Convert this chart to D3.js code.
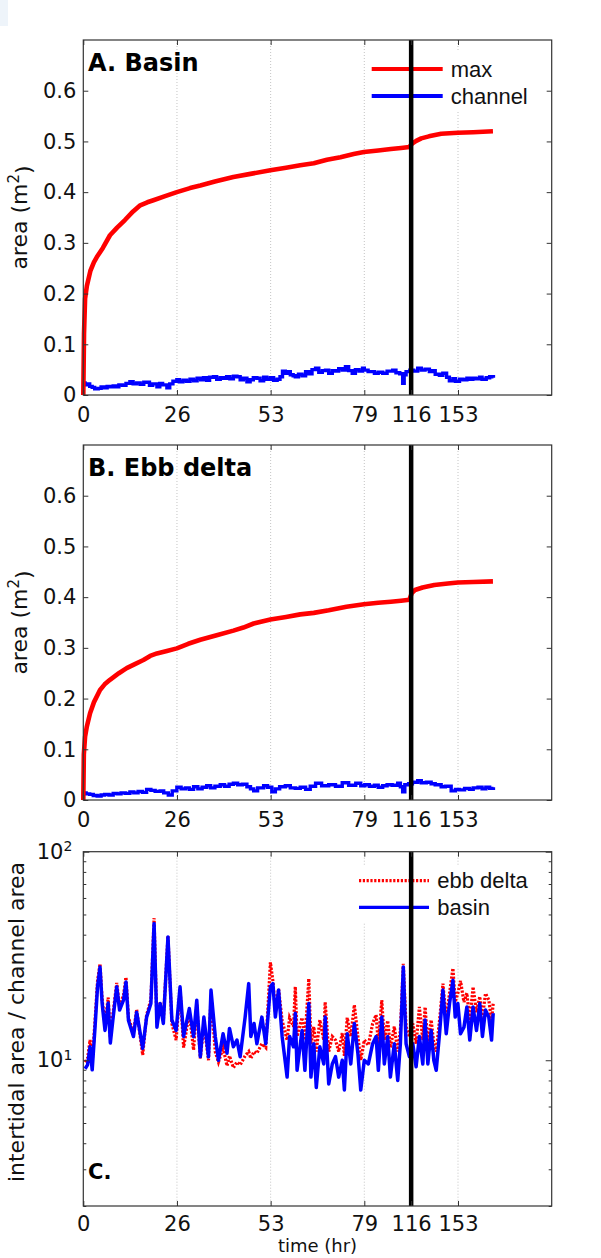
<!DOCTYPE html>
<html>
<head>
<meta charset="utf-8">
<script src="https://cdn.jsdelivr.net/npm/d3@7"></script>
<style>
  body { margin: 0; background: #fff; }
  svg { display: block; }
</style>
</head>
<body>
<div id="chart"></div>
<script>
// ---- data (hours, areas in m^2, ratios) ----
var xTicks = [0, 26.33, 52.67, 79, 116, 153];
var xTickLabels = ["0", "26", "53", "79", "116", "153"];
var yTicks = [0, 0.1, 0.2, 0.3, 0.4, 0.5, 0.6];
var yTickLabels = ["0", "0.1", "0.2", "0.3", "0.4", "0.5", "0.6"];
var logMajor = [10, 100];
var logExponents = ["1", "2"];
var logMinor = [2, 3, 4, 5, 6, 7, 8, 9, 20, 30, 40, 50, 60, 70, 80, 90];
var breakTime = 116;

var basinMaxT = [0, 0.2, 0.5, 1, 2, 3, 3.8, 5.5, 7.5, 9.5, 11.7, 14, 16, 18, 19.7, 23, 26.3, 30, 32.9, 37, 42.2, 47, 52.6, 57, 61, 64.8, 68.5, 72.3, 76, 78.9, 90, 100, 108, 114.6, 116.5, 120, 124, 130, 139.7, 152.9, 165, 180.6];
var basinMax = [0, 0.12, 0.19, 0.215, 0.245, 0.262, 0.272, 0.29, 0.315, 0.33, 0.345, 0.362, 0.374, 0.38, 0.384, 0.392, 0.4, 0.408, 0.413, 0.421, 0.43, 0.436, 0.443, 0.448, 0.453, 0.457, 0.464, 0.469, 0.475, 0.479, 0.482, 0.485, 0.487, 0.489, 0.495, 0.501, 0.506, 0.51, 0.515, 0.517, 0.518, 0.52];

var basinChT = [0, 0.5, 1, 1.8, 2.5, 3.2, 4.2, 5, 5.8, 6.7, 7.5, 8.4, 9.2, 10, 11, 12, 13.1, 14, 15, 16, 17, 17.8, 18.6, 19.5, 20.7, 21.5, 22.3, 23.5, 24.3, 25.2, 26.3, 27, 28, 29, 30, 31, 32, 33, 33.8, 34.7, 35.5, 36.6, 37.5, 38.5, 39.4, 40.3, 41.2, 42.2, 43.2, 44.1, 45, 46, 46.9, 47.8, 48.8, 49.7, 50.7, 51.6, 52.6, 53.5, 54.5, 55.3, 56, 56.8, 57.5, 58.2, 59, 59.6, 60.5, 61.5, 62.5, 63.4, 64.3, 65.3, 66.2, 67.2, 68.1, 69, 70, 70.9, 71.8, 72.8, 73.7, 74.6, 75.6, 76.5, 77.5, 78.5, 79, 82, 84.3, 87, 90, 93.5, 97, 101.4, 104, 107, 109.3, 110.5, 112, 115, 118, 121.2, 124, 127, 130.4, 133, 135, 138.3, 141, 144, 146.2, 149, 151, 154.2, 157, 160, 162, 164.7, 167, 170, 172, 175.3, 178, 181];
var basinCh = [0.024, 0.02, 0.022, 0.017, 0.015, 0.012, 0.013, 0.016, 0.014, 0.017, 0.016, 0.018, 0.016, 0.02, 0.019, 0.023, 0.026, 0.022, 0.024, 0.021, 0.025, 0.025, 0.019, 0.022, 0.016, 0.023, 0.02, 0.014, 0.022, 0.027, 0.03, 0.026, 0.029, 0.027, 0.031, 0.028, 0.033, 0.03, 0.034, 0.029, 0.035, 0.036, 0.031, 0.034, 0.033, 0.036, 0.032, 0.037, 0.036, 0.03, 0.033, 0.026, 0.03, 0.034, 0.033, 0.028, 0.035, 0.031, 0.034, 0.029, 0.031, 0.036, 0.047, 0.043, 0.046, 0.04, 0.038, 0.036, 0.041, 0.038, 0.046, 0.042, 0.05, 0.053, 0.045, 0.048, 0.049, 0.043, 0.048, 0.047, 0.052, 0.049, 0.056, 0.048, 0.043, 0.05, 0.047, 0.053, 0.049, 0.046, 0.046, 0.043, 0.045, 0.043, 0.047, 0.049, 0.044, 0.042, 0.023, 0.04, 0.046, 0.049, 0.047, 0.053, 0.049, 0.051, 0.046, 0.048, 0.041, 0.039, 0.043, 0.035, 0.028, 0.032, 0.027, 0.031, 0.03, 0.033, 0.031, 0.033, 0.032, 0.035, 0.031, 0.034, 0.036, 0.034];

var ebbMaxT = [0, 0.15, 0.5, 1, 1.9, 3, 4.7, 6, 7.5, 10, 12.2, 14.5, 16.9, 18.8, 20.7, 23.5, 26.3, 29.5, 32.9, 37.5, 42.2, 45, 47.9, 52.6, 57, 61, 64.8, 69, 74, 78.9, 90, 100, 108, 114.6, 116.5, 119, 125, 134.3, 145, 152.9, 165, 180.6];
var ebbMax = [0, 0.09, 0.125, 0.145, 0.171, 0.193, 0.217, 0.228, 0.237, 0.25, 0.26, 0.268, 0.276, 0.284, 0.289, 0.294, 0.299, 0.308, 0.316, 0.325, 0.334, 0.34, 0.348, 0.356, 0.361, 0.366, 0.369, 0.374, 0.381, 0.386, 0.389, 0.391, 0.393, 0.395, 0.408, 0.414, 0.419, 0.424, 0.427, 0.429, 0.43, 0.431];

var ebbChT = [0, 0.8, 1.8, 2.8, 3.9, 5, 6, 7.2, 8.4, 9.5, 10.6, 11.8, 13.1, 14.2, 15.4, 16.6, 17.8, 19, 20.2, 21.6, 22.6, 23.9, 25, 26.3, 27.5, 28.7, 29.8, 31, 32.2, 33.4, 34.7, 35.8, 37, 38.5, 39.7, 41, 42.2, 43.4, 44.7, 46, 47, 47.9, 49, 50.7, 51.8, 53, 54, 55.2, 56.8, 58.2, 59.6, 61, 62.5, 63.8, 65.3, 67, 69, 70.9, 72.8, 74.6, 76.6, 78, 79.4, 83, 87, 90, 93.5, 97, 101, 105.4, 107.5, 109.3, 111, 114, 117, 121.2, 124, 128, 131.8, 135, 139.7, 143, 147.6, 151, 154, 158.2, 162, 165, 168.8, 172, 175, 178, 181];
var ebbCh = [0.014, 0.012, 0.011, 0.009, 0.008, 0.01, 0.011, 0.01, 0.013, 0.012, 0.014, 0.013, 0.016, 0.014, 0.017, 0.015, 0.021, 0.019, 0.017, 0.018, 0.014, 0.01, 0.018, 0.025, 0.022, 0.024, 0.021, 0.026, 0.022, 0.025, 0.028, 0.024, 0.027, 0.03, 0.027, 0.031, 0.033, 0.03, 0.031, 0.026, 0.022, 0.018, 0.024, 0.028, 0.025, 0.016, 0.022, 0.026, 0.028, 0.024, 0.023, 0.025, 0.021, 0.027, 0.033, 0.028, 0.03, 0.027, 0.034, 0.029, 0.033, 0.028, 0.03, 0.027, 0.029, 0.025, 0.028, 0.03, 0.029, 0.033, 0.026, 0.016, 0.03, 0.032, 0.035, 0.038, 0.034, 0.035, 0.032, 0.03, 0.026, 0.027, 0.018, 0.021, 0.02, 0.023, 0.021, 0.024, 0.025, 0.022, 0.025, 0.023, 0.025];

var ratioT = [0.5, 1.2, 1.9, 2.5, 3.3, 4, 4.7, 5.3, 6.1, 7, 7.6, 8.4, 9.4, 10.2, 11.3, 12, 12.7, 14.1, 15, 16.7, 17.8, 19, 19.9, 20.7, 21.6, 22.5, 23.8, 24.9, 26.1, 27.2, 28.2, 29.8, 31, 31.9, 32.9, 33.9, 35.2, 35.9, 37.1, 38, 39.3, 40.4, 41.1, 42.2, 43.2, 44.1, 45.5, 46.5, 47.1, 48, 48.8, 50.2, 51.3, 52.6, 53.3, 54, 54.9, 55.9, 57.3, 58, 59.1, 59.6, 60.1, 61.5, 62.3, 63.4, 64, 64.8, 65.5, 66.5, 67.6, 68, 69, 70, 70.9, 71.8, 72.8, 73.4, 74.2, 75.2, 76.2, 77.2, 78, 79, 82.2, 85.6, 88.3, 90.1, 92.8, 94.8, 97.5, 99.6, 102.7, 105.4, 107.5, 109.8, 112, 114.6, 117.3, 119.9, 122.5, 125.2, 127, 129.2, 131.8, 133.9, 135.8, 138.4, 141.1, 143.7, 146.3, 149, 150.8, 152.9, 155, 157.7, 160, 162.3, 164.9, 167.6, 170.2, 172.3, 174.7, 177.3, 179.5, 180.8];
var basinRatio = [9.1, 9.5, 11.6, 9, 14.4, 22.5, 28, 18.7, 13.9, 18.8, 12.1, 16.1, 22.5, 17.4, 19.4, 23.7, 15.5, 13, 17, 11.4, 16.1, 18.7, 45.3, 14.4, 18.7, 15, 39, 15.6, 13.9, 22.5, 13, 17.7, 13, 19.4, 10.4, 16.1, 10.4, 21.7, 13, 10, 13.4, 10.8, 14.2, 11.6, 12.5, 10.4, 16.1, 23.3, 13, 15, 12, 16.1, 12, 22.5, 23.3, 16.1, 21.7, 13, 8.3, 13, 11.6, 16.8, 8.95, 13.9, 8.95, 18.7, 8.3, 12, 7.4, 11.6, 9.6, 16.1, 7.7, 9.6, 10.4, 8.3, 10, 7.2, 13.4, 9.6, 15, 10.8, 7.2, 10, 9.6, 12, 13, 8.95, 16.1, 9.6, 13, 8.3, 12, 8, 12, 28, 12, 10.4, 12, 9.3, 13, 9.6, 15.6, 9.6, 13.9, 10, 8.95, 13.4, 21.7, 13.4, 18.7, 24.2, 16.1, 18.7, 13.4, 14.4, 18, 12.5, 18, 13.9, 18.7, 13, 17.4, 16.1, 12.5, 16.8];
var ebbRatio = [9.8, 10.2, 12.5, 9.8, 15.5, 24, 29, 19.5, 14.8, 20, 12.8, 17, 23.5, 18, 20.5, 25, 16, 13.5, 17.5, 10.6, 16.5, 19.5, 48, 15, 19, 15.5, 39.5, 15, 12.5, 22, 11.5, 17, 11.2, 18.5, 10.2, 15, 10, 20.5, 11, 9.8, 11.5, 9.4, 10.5, 9.2, 9.8, 9.5, 10.5, 11, 10.2, 11, 10.8, 12, 11.5, 29.5, 24, 17, 22, 15.5, 12.5, 16, 14.5, 22.5, 13, 16, 12.5, 24.6, 12, 14.5, 11, 15.6, 12.5, 19, 11, 13, 12.5, 11, 13.5, 10.5, 16, 13, 18.4, 13, 10, 12.5, 11.8, 15, 16.5, 12, 19.4, 12.5, 15.5, 11.5, 14.5, 11, 14, 29, 14.5, 13, 15, 12, 18, 12.5, 18, 12, 15.6, 12, 11, 15.5, 23.3, 15.5, 21, 27.6, 19, 21, 24, 19, 21, 15.5, 22.5, 17, 20.2, 16, 20.9, 19.5, 15.5, 18.7];

// ---- layout ----
var width = 601, height = 1258;
var left = 83.3, right = 551.7;
var tickFont = "DejaVu Sans, sans-serif";

var svg = d3.select("#chart")
  .append("svg")
  .attr("width", width)
  .attr("height", height)
  .attr("viewBox", [0, 0, width, height]);

// faint tab in the corner of the original
svg.append("rect")
  .attr("x", 0).attr("y", 0).attr("width", 8).attr("height", 26)
  .attr("fill", "#eef4fa");

// time axis is compressed after 79 hr
var x = d3.scaleLinear()
  .domain([0, 79, 227])
  .range([left, 364.3, right]);

function pts(t, v) {
  return t.map(function(d, i) { return {t: d, v: v[i]}; });
}

function grid(g, top, bottom) {
  // dotted vertical grid
  g.append("g").selectAll("line")
    .data(xTicks.slice(1))
    .join("line")
      .attr("x1", d => x(d)).attr("x2", d => x(d))
      .attr("y1", top).attr("y2", bottom)
      .attr("stroke", "#c4c4c4")
      .attr("stroke-dasharray", "1,2");
}

function frame(g, y, top, bottom, isLog, xPad) {
  var col = "#333";
  var bx = g.append("g")
    .attr("transform", `translate(0,${bottom})`)
    .call(d3.axisBottom(x).tickValues(xTicks).tickSize(-5).tickPadding(xPad)
      .tickFormat((d, i) => xTickLabels[i]));
  var tx = g.append("g")
    .attr("transform", `translate(0,${top})`)
    .call(d3.axisTop(x).tickValues(xTicks).tickSize(-5).tickFormat(""));

  var ly, ry;
  if (isLog) {
    ly = g.append("g")
      .attr("transform", `translate(${left},0)`)
      .call(d3.axisLeft(y).tickValues(logMajor).tickSize(-6).tickPadding(11).tickFormat(""));
    ly.selectAll(".tick text")
      .attr("text-anchor", "end")
      .each(function(d, i) {
        var t = d3.select(this);
        t.append("tspan").text("10");
        t.append("tspan").attr("dy", "-0.55em").attr("font-size", "14px").text(logExponents[i]);
      });
    g.append("g")
      .attr("transform", `translate(${left},0)`)
      .call(d3.axisLeft(y).tickValues(logMinor).tickSize(-3).tickFormat(""))
      .call(s => s.select(".domain").remove())
      .selectAll("line").attr("stroke", col);
    ry = g.append("g")
      .attr("transform", `translate(${right},0)`)
      .call(d3.axisRight(y).tickValues(logMajor).tickSize(-6).tickFormat(""));
    g.append("g")
      .attr("transform", `translate(${right},0)`)
      .call(d3.axisRight(y).tickValues(logMinor).tickSize(-3).tickFormat(""))
      .call(s => s.select(".domain").remove())
      .selectAll("line").attr("stroke", col);
  } else {
    ly = g.append("g")
      .attr("transform", `translate(${left},0)`)
      .call(d3.axisLeft(y).tickValues(yTicks).tickSize(-5).tickPadding(7)
        .tickFormat((d, i) => yTickLabels[i]));
    ry = g.append("g")
      .attr("transform", `translate(${right},0)`)
      .call(d3.axisRight(y).tickValues(yTicks).tickSize(-5).tickFormat(""));
  }

  [bx, tx, ly, ry].forEach(function(a) {
    a.select(".domain").remove();
    a.selectAll("line").attr("stroke", col);
    a.attr("font-family", tickFont).attr("font-size", 21);
    a.selectAll("text").attr("fill", "#111");
  });

  g.append("rect")
    .attr("x", left).attr("y", top)
    .attr("width", right - left).attr("height", bottom - top)
    .attr("fill", "none")
    .attr("stroke", col)
    .attr("stroke-width", 1.2);
}

function breakLine(g, top, bottom) {
  g.append("line")
    .attr("x1", x(breakTime)).attr("x2", x(breakTime))
    .attr("y1", top).attr("y2", bottom)
    .attr("stroke", "#000")
    .attr("stroke-width", 4.5);
}

function yLabel(g, cx, cy, main, sup, tail) {
  var t = g.append("text")
    .attr("transform", `translate(${cx},${cy}) rotate(-90)`)
    .attr("text-anchor", "middle")
    .attr("font-family", tickFont)
    .attr("font-size", 22)
    .attr("fill", "#111");
  t.append("tspan").text(main);
  if (sup) {
    t.append("tspan").attr("dy", "-0.55em").attr("font-size", "15px").text(sup);
    t.append("tspan").attr("dy", "0.55em").text(tail);
  }
}

function title(g, tx, ty, txt, size) {
  g.append("text")
    .attr("x", tx).attr("y", ty)
    .attr("font-family", tickFont)
    .attr("font-weight", "bold")
    .attr("font-size", size)
    .attr("fill", "#000")
    .text(txt);
}

// ---- area panels (A and B) ----
function areaPanel(top, bottom, maxT, maxV, chT, chV, name, legend) {
  var g = svg.append("g");
  var y = d3.scaleLinear().domain([0, 0.7]).range([bottom, top]);
  grid(g, top, bottom);

  var chLine = d3.line().curve(d3.curveStepAfter).x(d => x(d.t)).y(d => y(d.v));
  var maxLine = d3.line().x(d => x(d.t)).y(d => y(d.v));

  g.append("path")
    .datum(pts(chT, chV))
    .attr("fill", "none")
    .attr("stroke", "#0000ff")
    .attr("stroke-width", 3.4)
    .attr("d", chLine);

  g.append("path")
    .datum(pts(maxT, maxV))
    .attr("fill", "none")
    .attr("stroke", "#ff0000")
    .attr("stroke-width", 4.6)
    .attr("stroke-linejoin", "round")
    .attr("d", maxLine);

  if (legend) {
    g.append("rect").attr("x", 368).attr("y", 52).attr("width", 176).attr("height", 58).attr("fill", "#fff");
    var items = [{label: "max", color: "#ff0000", y: 69}, {label: "channel", color: "#0000ff", y: 96}];
    items.forEach(function(it) {
      g.append("line")
        .attr("x1", 371.7).attr("x2", 442.7).attr("y1", it.y).attr("y2", it.y)
        .attr("stroke", it.color).attr("stroke-width", 4.2);
      g.append("text")
        .attr("x", 450.7).attr("y", it.y).attr("dy", "0.35em")
        .attr("font-family", "Liberation Sans, Arial, sans-serif")
        .attr("font-size", 22)
        .attr("fill", "#111")
        .text(it.label);
    });
  }

  breakLine(g, top, bottom);
  frame(g, y, top, bottom, false, 12.5);
  title(g, 88, top + 31, name, 24);
  yLabel(g, 27, (top + bottom) / 2, "area (m", "2", ")");
}

areaPanel(40, 395, basinMaxT, basinMax, basinChT, basinCh, "A. Basin", true);
areaPanel(445, 800, ebbMaxT, ebbMax, ebbChT, ebbCh, "B. Ebb delta", false);

// ---- ratio panel (C) ----
(function() {
  var top = 851.7, bottom = 1206;
  var g = svg.append("g");
  var y = d3.scaleLog().domain([2, 100]).range([bottom, top]);
  grid(g, top, bottom);

  var line = d3.line().x(d => x(d.t)).y(d => y(d.v));

  g.append("path")
    .datum(pts(ratioT, ebbRatio))
    .attr("fill", "none")
    .attr("stroke", "#ff0000")
    .attr("stroke-width", 3.2)
    .attr("stroke-dasharray", "2.2,1.6")
    .attr("d", line);

  g.append("path")
    .datum(pts(ratioT, basinRatio))
    .attr("fill", "none")
    .attr("stroke", "#0000ff")
    .attr("stroke-width", 3.5)
    .attr("stroke-linejoin", "round")
    .attr("d", line);

  g.append("rect").attr("x", 356).attr("y", 866).attr("width", 188).attr("height", 56).attr("fill", "#fff");
  var items = [
    {label: "ebb delta", color: "#ff0000", y: 880.7, dash: "2.2,1.6"},
    {label: "basin", color: "#0000ff", y: 907.3, dash: null}
  ];
  items.forEach(function(it) {
    g.append("line")
      .attr("x1", 359).attr("x2", 429).attr("y1", it.y).attr("y2", it.y)
      .attr("stroke", it.color).attr("stroke-width", 3.2)
      .attr("stroke-dasharray", it.dash);
    g.append("text")
      .attr("x", 437.3).attr("y", it.y).attr("dy", "0.35em")
      .attr("font-family", "Liberation Sans, Arial, sans-serif")
      .attr("font-size", 22)
      .attr("fill", "#111")
      .text(it.label);
  });

  breakLine(g, top, bottom);
  frame(g, y, top, bottom, true, 10.5);
  title(g, 88, 1179, "C.", 21);
  yLabel(g, 24, 1022, "intertidal area / channel area");

  // axis title squeezed in above the bottom edge, below the tick labels
  g.append("text")
    .attr("x", (left + right) / 2).attr("y", 1252)
    .attr("text-anchor", "middle")
    .attr("font-family", tickFont)
    .attr("font-size", 18)
    .attr("fill", "#111")
    .text("time (hr)");
})();
</script>
</body>
</html>
